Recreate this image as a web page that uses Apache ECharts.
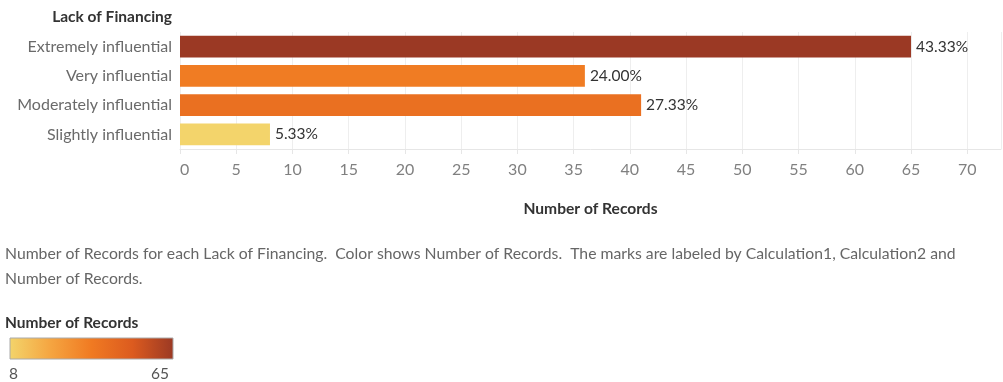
<!DOCTYPE html>
<html>
<head>
<meta charset="utf-8">
<script src="https://cdn.jsdelivr.net/npm/echarts@6/dist/echarts.min.js"></script>
<style>
  html, body { margin: 0; padding: 0; background: #fff; }
  #chart { width: 1003px; height: 382px; }
</style>
</head>
<body>
<div id="chart"></div>
<script>
// Responses to "Lack of Financing"
const categories = ['Extremely influential', 'Very influential', 'Moderately influential', 'Slightly influential'];
const records = [65, 36, 41, 8];
const colorRamp = ['#f3d46b', '#f5a541', '#f07a22', '#dc5b1f', '#9b3924'];

const FONT = 'Lato, "Liberation Sans", sans-serif';
const total = records.reduce((a, b) => a + b, 0);
const minVal = Math.min(...records);
const maxVal = Math.max(...records);

const chart = echarts.init(document.getElementById('chart'));

chart.setOption({
  animation: false,
  textStyle: { fontFamily: FONT },
  grid: { left: 180, top: 32, width: 821, height: 117, containLabel: false },
  visualMap: {
    show: false,
    type: 'continuous',
    min: minVal,
    max: maxVal,
    dimension: 0,
    seriesIndex: 0,
    inRange: { color: colorRamp }
  },
  xAxis: {
    type: 'value',
    min: 0,
    max: 73,
    interval: 5,
    name: 'Number of Records',
    nameLocation: 'middle',
    nameGap: 52,
    nameTextStyle: { color: '#333', fontSize: 15.6, fontWeight: 'bold', fontFamily: FONT },
    axisLine: { show: true, lineStyle: { color: '#e6e6e6' } },
    axisTick: { show: true, length: 5, lineStyle: { color: '#e6e6e6' } },
    axisLabel: {
      color: '#808080', fontSize: 16, margin: 13, fontFamily: FONT,
      showMaxLabel: false, alignMinLabel: 'left'
    },
    splitLine: { show: true, lineStyle: { color: '#eeeeee' } }
  },
  yAxis: {
    type: 'category',
    data: categories,
    inverse: true,
    axisLine: { show: false },
    axisTick: { show: false },
    axisLabel: { color: '#6a6a6a', fontSize: 16, margin: 8, fontFamily: FONT },
    splitLine: { show: false }
  },
  series: [{
    type: 'bar',
    data: records,
    barCategoryGap: '25%',
    label: {
      show: true,
      position: 'right',
      distance: 5,
      color: '#333',
      fontSize: 15.5,
      fontFamily: FONT,
      formatter: p => (p.value / total * 100).toFixed(2) + '%'
    }
  }],
  graphic: [
    {
      type: 'text', right: 1003 - 172, top: 9,
      style: { text: 'Lack of Financing', fill: '#333', font: 'bold 15.5px ' + FONT, textAlign: 'right' }
    },
    {
      type: 'text', left: 5, top: 241,
      style: {
        text: 'Number of Records for each Lack of Financing.  Color shows Number of Records.  The marks are labeled by Calculation1, Calculation2 and\nNumber of Records.',
        fill: '#666', font: '15.75px ' + FONT, lineHeight: 25
      }
    },
    {
      type: 'text', left: 5, top: 315,
      style: { text: 'Number of Records', fill: '#333', font: 'bold 15.5px ' + FONT }
    },
    {
      type: 'rect',
      shape: { x: 10, y: 338, width: 163, height: 21 },
      style: {
        fill: new echarts.graphic.LinearGradient(0, 0, 1, 0,
          colorRamp.map((c, i) => ({ offset: i / (colorRamp.length - 1), color: c }))),
        stroke: '#aaaaaa', lineWidth: 1
      }
    },
    {
      type: 'text', left: 9, top: 366,
      style: { text: String(minVal), fill: '#555', font: '15.5px ' + FONT }
    },
    {
      type: 'text', left: 151, top: 366,
      style: { text: String(maxVal), fill: '#555', font: '15.5px ' + FONT }
    }
  ]
});
</script>
</body>
</html>
